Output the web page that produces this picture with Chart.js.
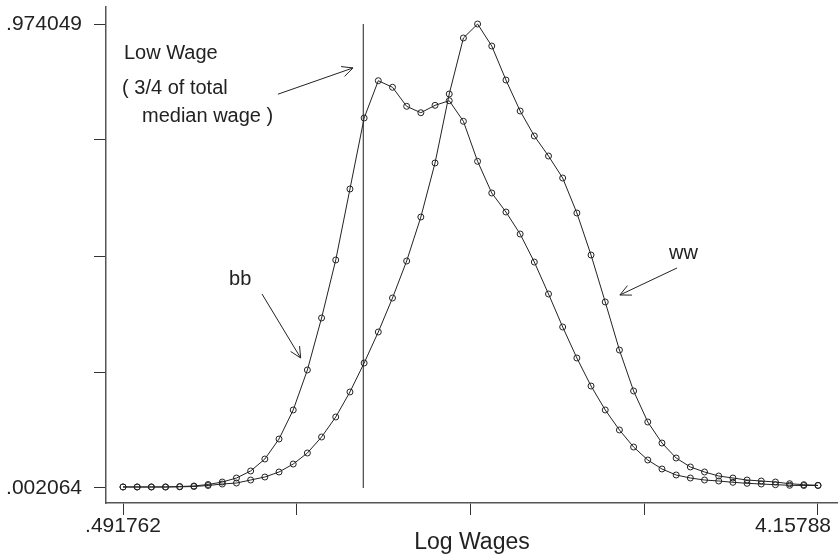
<!DOCTYPE html>
<html>
<head>
<meta charset="utf-8">
<script src="https://cdn.jsdelivr.net/npm/chart.js@4/dist/chart.umd.min.js"></script>
<style>
  html, body { margin: 0; padding: 0; background: #fff; }
  #chart { display: block; }
</style>
</head>
<body>
<canvas id="chart" width="838" height="560"></canvas>
<script>
// log wage grid (50 points, same for both groups)
const xStart = 0.491762;
const xEnd = 4.15788;
const logWages = [
  0.4918, 0.5666, 0.6414, 0.7162, 0.7911, 0.8659, 0.9407, 1.0155, 1.0903, 1.1651,
  1.2400, 1.3148, 1.3896, 1.4644, 1.5392, 1.6140, 1.6889, 1.7637, 1.8385, 1.9133,
  1.9881, 2.0629, 2.1378, 2.2126, 2.2874, 2.3622, 2.4370, 2.5118, 2.5867, 2.6615,
  2.7363, 2.8111, 2.8859, 2.9607, 3.0356, 3.1104, 3.1852, 3.2600, 3.3348, 3.4096,
  3.4845, 3.5593, 3.6341, 3.7089, 3.7837, 3.8585, 3.9334, 4.0082, 4.0830, 4.1579
];

const bb = [
  0.0042, 0.0042, 0.0042, 0.0042, 0.0052, 0.0063, 0.0094, 0.0146, 0.0230, 0.0377,
  0.0628, 0.1047, 0.1655, 0.2493, 0.3582, 0.4797, 0.6284, 0.7771, 0.8553, 0.8415,
  0.8016, 0.7882, 0.8037, 0.8134, 0.7702, 0.6864, 0.6200, 0.5802, 0.5341, 0.4754,
  0.4085, 0.3393, 0.2744, 0.2157, 0.1655, 0.1236, 0.0879, 0.0607, 0.0419, 0.0293,
  0.0230, 0.0188, 0.0167, 0.0140, 0.0119, 0.0104, 0.0090, 0.0077, 0.0073, 0.0073
];

const ww = [
  0.0042, 0.0042, 0.0042, 0.0042, 0.0045, 0.0052, 0.0073, 0.0104, 0.0125, 0.0188,
  0.0251, 0.0356, 0.0523, 0.0754, 0.1089, 0.1508, 0.2032, 0.2639, 0.3289, 0.4001,
  0.4776, 0.5697, 0.6829, 0.8274, 0.9447, 0.974049, 0.9279, 0.8567, 0.7918, 0.7394,
  0.6975, 0.6514, 0.5781, 0.4901, 0.3917, 0.2911, 0.2053, 0.1403, 0.0963, 0.0649,
  0.0461, 0.0356, 0.0272, 0.0230, 0.0188, 0.0167, 0.0146, 0.0111, 0.0090, 0.0077
];

// low wage cutoff (3/4 of total median wage)
const lowWageCut = 1.7594;

const xTicks = [0.491762, 1.408291, 2.324821, 3.24135, 4.15788];
const xTickLabels = ['.491762', '', '', '', '4.15788'];
const yTicks = [0.002064, 0.24506, 0.488056, 0.731053, 0.974049];
const yTickLabels = ['.002064', '', '', '', '.974049'];

const ink = '#222';
const font = 'Liberation Sans, Arial, Helvetica, sans-serif';

const toPoints = ys => ys.map((y, i) => ({ x: logWages[i], y: y }));

const seriesStyle = {
  borderColor: ink,
  borderWidth: 1,
  pointRadius: 3,
  pointBorderWidth: 1,
  pointBorderColor: ink,
  pointBackgroundColor: 'rgba(0,0,0,0)',
  tension: 0,
  fill: false
};

// notes placed in data coordinates
const notes = [
  { text: 'Low Wage', x: 0.497, y: 0.913 },
  { text: '( 3/4 of total', x: 0.487, y: 0.838 },
  { text: 'median wage )', x: 0.592, y: 0.781 },
  { text: 'bb', x: 1.051, y: 0.438 },
  { text: 'ww', x: 3.372, y: 0.4923 }
];
const arrows = [
  { from: [1.309, 0.827], to: [1.705, 0.882] },
  { from: [1.225, 0.4085], to: [1.429, 0.2744] },
  { from: [3.414, 0.4629], to: [3.113, 0.4064] }
];

// keep the last x label inside the canvas, like the original graph does
const edgeLabelPlugin = {
  id: 'edgeLabel',
  beforeDraw(chart) {
    const items = chart.scales.x.getLabelItems();
    const last = items[items.length - 1];
    if (last) {
      last.options.textAlign = 'right';
      last.options.translation[0] = chart.width - 7;
    }
  }
};

const notesPlugin = {
  id: 'notes',
  afterDatasetsDraw(chart) {
    const { ctx, scales: { x, y } } = chart;
    ctx.save();
    ctx.fillStyle = ink;
    ctx.font = '20px ' + font;
    ctx.textAlign = 'left';
    ctx.textBaseline = 'middle';
    notes.forEach(n => {
      ctx.fillText(n.text, x.getPixelForValue(n.x), y.getPixelForValue(n.y));
    });

    ctx.strokeStyle = ink;
    ctx.lineWidth = 1;
    arrows.forEach(a => {
      const x1 = x.getPixelForValue(a.from[0]);
      const y1 = y.getPixelForValue(a.from[1]);
      const x2 = x.getPixelForValue(a.to[0]);
      const y2 = y.getPixelForValue(a.to[1]);
      const ang = Math.atan2(y2 - y1, x2 - x1);
      const head = 12;
      ctx.beginPath();
      ctx.moveTo(x1, y1);
      ctx.lineTo(x2, y2);
      ctx.moveTo(x2 - head * Math.cos(ang - 0.45), y2 - head * Math.sin(ang - 0.45));
      ctx.lineTo(x2, y2);
      ctx.lineTo(x2 - head * Math.cos(ang + 0.45), y2 - head * Math.sin(ang + 0.45));
      ctx.stroke();
    });
    ctx.restore();
  }
};

new Chart(document.getElementById('chart'), {
  type: 'line',
  data: {
    datasets: [
      Object.assign({ label: 'bb', data: toPoints(bb) }, seriesStyle),
      Object.assign({ label: 'ww', data: toPoints(ww) }, seriesStyle),
      {
        label: 'low wage',
        data: [{ x: lowWageCut, y: yTicks[0] }, { x: lowWageCut, y: yTicks[yTicks.length - 1] }],
        borderColor: '#444',
        borderWidth: 1.2,
        pointRadius: 0
      }
    ]
  },
  options: {
    responsive: false,
    animation: false,
    layout: { autoPadding: false, padding: { top: 7, right: 0, bottom: 0, left: 0 } },
    plugins: {
      legend: { display: false },
      tooltip: { enabled: false }
    },
    scales: {
      x: {
        type: 'linear',
        min: xStart - 17 * 0.005275,
        max: xEnd + 20 * 0.005275,
        border: { display: true, color: '#555', width: 1.5 },
        grid: { drawOnChartArea: false, drawTicks: true, tickLength: 12, color: '#333', lineWidth: 1 },
        afterBuildTicks: s => { s.ticks = xTicks.map(v => ({ value: v })); },
        afterFit: s => { s.height = 57; s.paddingLeft = 0; s.paddingRight = 0; },
        ticks: {
          autoSkip: false,
          maxRotation: 0,
          padding: 1,
          color: ink,
          font: { family: font, size: 21, lineHeight: 1 },
          callback: (v, i) => xTickLabels[i]
        },
        title: {
          display: true,
          text: 'Log Wages',
          color: ink,
          font: { family: font, size: 23, lineHeight: 1.2 },
          padding: { top: 0, bottom: 4 }
        }
      },
      y: {
        type: 'linear',
        min: yTicks[0] - 15 * 0.0020948,
        max: yTicks[4] + 17 * 0.0020948,
        border: { display: true, color: '#555', width: 1.5 },
        grid: { drawOnChartArea: false, drawTicks: true, tickLength: 12, color: '#333', lineWidth: 1 },
        afterBuildTicks: s => { s.ticks = yTicks.map(v => ({ value: v })); },
        afterFit: s => { s.width = 106; s.paddingTop = 0; s.paddingBottom = 0; },
        ticks: {
          autoSkip: false,
          padding: 12,
          color: ink,
          font: { family: font, size: 21, lineHeight: 1 },
          callback: (v, i) => yTickLabels[i]
        }
      }
    }
  },
  plugins: [edgeLabelPlugin, notesPlugin]
});
</script>
</body>
</html>
